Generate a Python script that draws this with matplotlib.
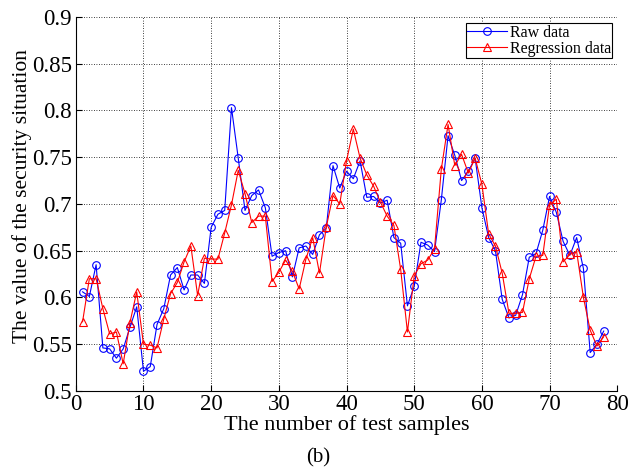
import numpy as np
import matplotlib.pyplot as plt

plt.rcParams['font.family'] = ['Liberation Serif', 'DejaVu Serif']

samples = np.arange(1, 79)

raw = [0.606, 0.601, 0.635, 0.546, 0.545, 0.535, 0.545, 0.568, 0.590, 0.521,
       0.526, 0.571, 0.588, 0.624, 0.632, 0.608, 0.624, 0.624, 0.615, 0.675,
       0.689, 0.693, 0.803, 0.749, 0.693, 0.709, 0.715, 0.696, 0.644, 0.648,
       0.650, 0.622, 0.653, 0.655, 0.646, 0.667, 0.674, 0.741, 0.717, 0.735,
       0.727, 0.746, 0.707, 0.708, 0.701, 0.704, 0.664, 0.658, 0.591, 0.612,
       0.659, 0.656, 0.649, 0.704, 0.773, 0.752, 0.725, 0.735, 0.749, 0.696,
       0.664, 0.650, 0.598, 0.578, 0.581, 0.603, 0.643, 0.647, 0.672, 0.708,
       0.691, 0.660, 0.645, 0.664, 0.631, 0.541, 0.550, 0.564]

regression = [0.574, 0.620, 0.620, 0.588, 0.561, 0.563, 0.529, 0.573, 0.606, 0.550,
              0.549, 0.546, 0.577, 0.604, 0.616, 0.638, 0.655, 0.602, 0.642, 0.641,
              0.641, 0.669, 0.699, 0.736, 0.711, 0.680, 0.687, 0.687, 0.617, 0.627,
              0.640, 0.628, 0.609, 0.641, 0.664, 0.626, 0.675, 0.709, 0.700, 0.746,
              0.780, 0.749, 0.731, 0.719, 0.702, 0.687, 0.677, 0.630, 0.563, 0.623,
              0.636, 0.640, 0.652, 0.737, 0.785, 0.741, 0.753, 0.733, 0.749, 0.721,
              0.668, 0.655, 0.626, 0.583, 0.583, 0.584, 0.620, 0.644, 0.645, 0.699,
              0.705, 0.638, 0.646, 0.649, 0.600, 0.565, 0.548, 0.558]

fig = plt.figure(figsize=(6.37, 4.71), dpi=100)
ax = fig.add_axes([0.119, 0.170, 0.850, 0.794])

ax.plot(samples, raw, color='blue', lw=0.8, marker='o', ms=5.5,
        mfc='none', mec='blue', mew=0.8, label='Raw data')
ax.plot(samples, regression, color='red', lw=0.8, marker='^', ms=6,
        mfc='none', mec='red', mew=0.8, label='Regression data')

ax.set_xlim(0, 80)
ax.set_ylim(0.5, 0.9)
ax.set_xticks(np.arange(0, 81, 10))
ax.set_yticks(np.arange(0.5, 0.91, 0.05))
ax.set_yticklabels(['0.5', '0.55', '0.6', '0.65', '0.7', '0.75', '0.8', '0.85', '0.9'])
ax.grid(True, color='black', linestyle=(0, (1, 2)), linewidth=0.6)
ax.tick_params(direction='in', labelsize=16.5, length=4)
ax.tick_params(axis='x', pad=2)
ax.tick_params(axis='y', pad=3)
ax.spines['top'].set_visible(False)
ax.spines['right'].set_visible(False)

ax.set_xlabel('The number of test samples', fontsize=16, labelpad=0)
ax.set_ylabel('The value of the security situation', fontsize=15.5)
ax.yaxis.set_label_coords(-0.08, 0.52)

leg = ax.legend(loc='upper right', fontsize=11.5, handlelength=2.5,
                handletextpad=0.15, borderpad=0.1, labelspacing=0.0,
                borderaxespad=0, fancybox=False, framealpha=1,
                edgecolor='black', bbox_to_anchor=(0.991, 0.984))
leg.get_frame().set_linewidth(0.8)

fig.text(0.5, 0.027, '(b)', ha='center', va='center', fontsize=15)

fig.savefig('out.png', dpi=100)
